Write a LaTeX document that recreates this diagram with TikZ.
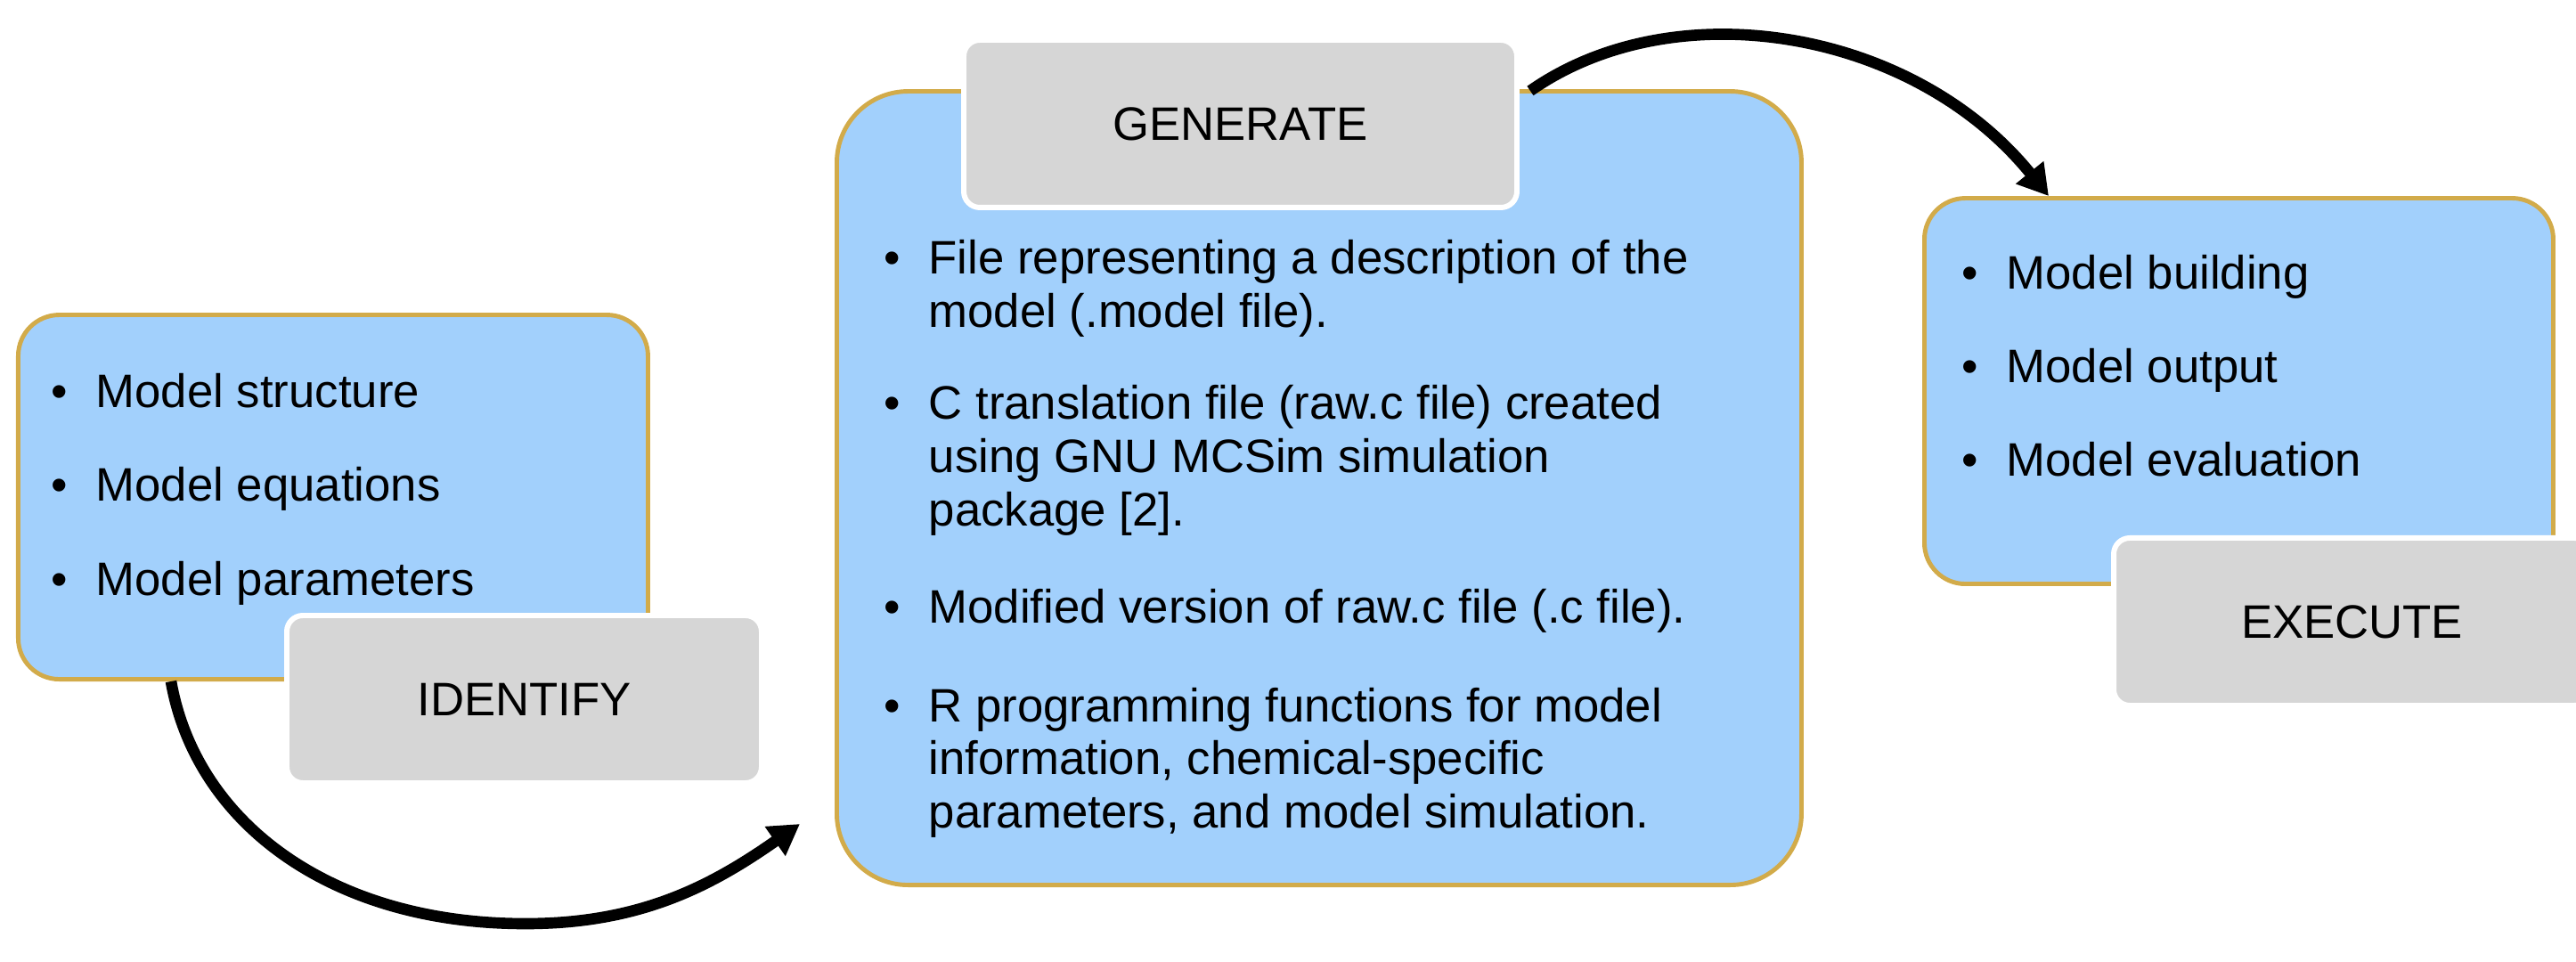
\documentclass[tikz,border=0pt]{standalone}
\usepackage{fontspec}
\setmainfont{Liberation Sans}
\usetikzlibrary{arrows.meta}

\definecolor{panelblue}{RGB}{162,208,252}
\definecolor{panelgold}{RGB}{210,171,74}
\definecolor{taggray}{RGB}{214,214,214}

% bullet with a fixed gap before the text
\newcommand{\bul}{\makebox[5mm][l]{\textbullet}}

\begin{document}
\begin{tikzpicture}[%
    >={Triangle[length=3.4mm,width=3.8mm]}, % heavy arrow heads
    font=\fontsize{15}{17.07}\selectfont,    % one text size everywhere
    ]
\useasboundingbox (0,0) rectangle (28.92,10.79);
% -------------------------------------------------
% Box styles
\tikzset{
  base/.style={rounded corners, inner sep=0pt},
  panel/.style={base, draw=panelgold, fill=panelblue, line width=1.4pt, anchor=south west},
  tag/.style={base, draw=white, fill=taggray, line width=1.7pt, rounded corners=1.8mm,
    minimum height=1.88cm, anchor=north west},
  item/.style={anchor=base west, inner sep=0pt, align=left},
  link/.style={->, draw, line width=3.6pt},
}
% -------------------------------------------------
% The three blue panels
\node [panel, minimum width=7.07cm, minimum height=4.09cm, rounded corners=4.6mm] (inputs) at (0.18,3.14) {};
\node [panel, minimum width=10.83cm, minimum height=8.91cm, rounded corners=8mm] (files) at (9.37,0.83) {};
\node [panel, minimum width=7.06cm, minimum height=4.33cm, rounded corners=4.6mm] (outputs) at (21.58,4.21) {};
% -------------------------------------------------
% Grey step tags, laid over a corner of each panel
\node [tag, minimum width=5.33cm] (identify) at (3.19,3.91) {IDENTIFY};
\node [tag, minimum width=6.21cm] (generate) at (10.79,10.37) {GENERATE};
\node [tag, minimum width=5.35cm] (execute) at (23.70,4.78) {EXECUTE};
% -------------------------------------------------
% Bullet lists
\node [item] (in1) at (0.57,6.21) {\bul Model structure};
\node [item] (in2) at (0.57,5.16) {\bul Model equations};
\node [item] (in3) at (0.57,4.11) {\bul Model parameters};

\node [item] (f1) at (9.92,7.71) {\begin{tabular}[t]{@{}l@{}l@{}}\bul & File representing a description of the\\
  & model (.model file).\end{tabular}};
\node [item] (f2) at (9.92,6.08) {\begin{tabular}[t]{@{}l@{}l@{}}\bul & C translation file (raw.c file) created\\
  & using GNU MCSim simulation\\ & package [2].\end{tabular}};
\node [item] (f3) at (9.92,3.80) {\bul Modified version of raw.c file (.c file).};
\node [item] (f4) at (9.92,2.69) {\begin{tabular}[t]{@{}l@{}l@{}}\bul & R programming functions for model\\
  & information, chemical-specific\\ & parameters, and model simulation.\end{tabular}};

\node [item] (out1) at (22.02,7.54) {\bul Model building};
\node [item] (out2) at (22.02,6.49) {\bul Model output};
\node [item] (out3) at (22.02,5.44) {\bul Model evaluation};
% -------------------------------------------------
% The two curved arrows; the lower one dips through (dip)
\coordinate (dip) at (5.90,0.42);
\draw [link] ([xshift=1.74cm]inputs.south west)
  .. controls +(-80:1.6) and +(180:2.2) .. (dip)
  .. controls +(0:1.3) and +(215:1.2) .. ([shift={(-0.39,0.71)}]files.south west);
\draw [link] ([shift={(0.12,0.37)}]generate.east)
  .. controls +(35:2.0) and +(129:2.4) .. ([xshift=1.42cm]outputs.north west);
\end{tikzpicture}
\end{document}
